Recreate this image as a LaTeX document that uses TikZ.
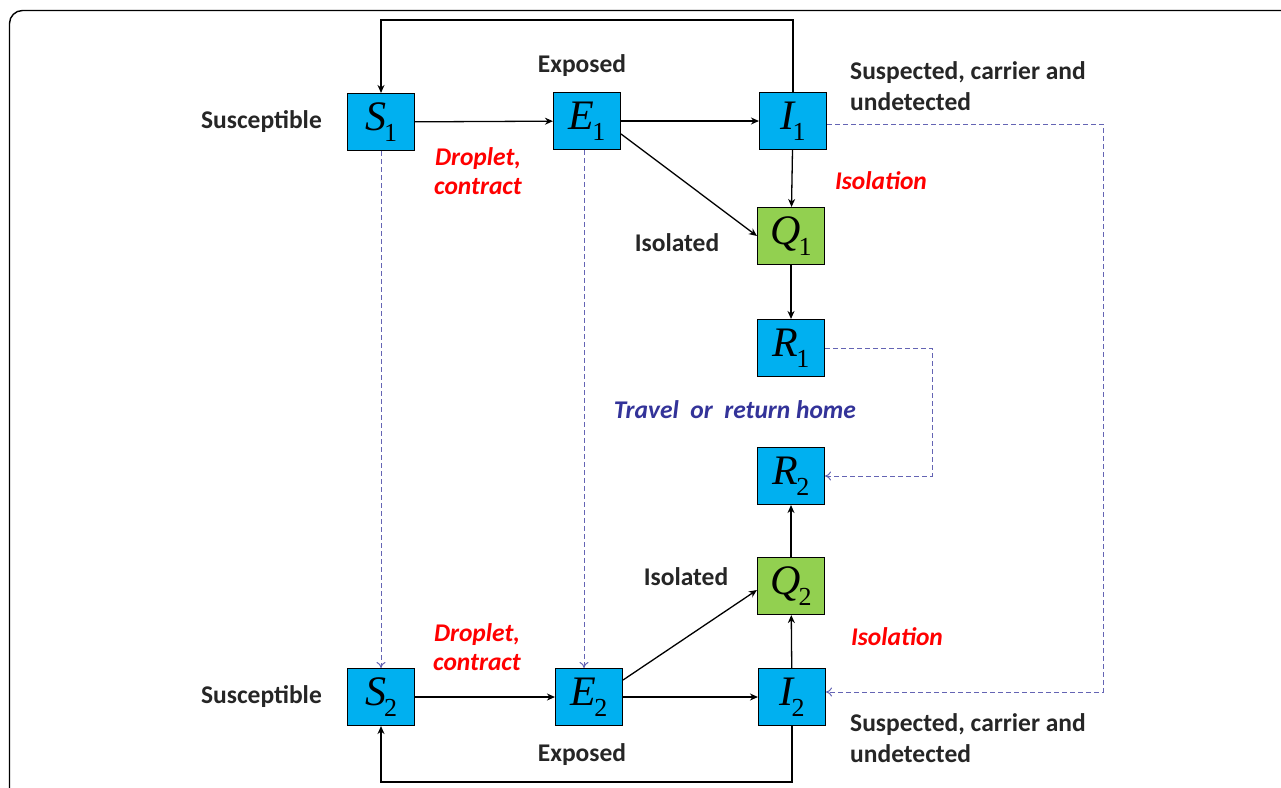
\documentclass[tikz,border=0pt]{standalone}
\usepackage{fontspec}
\setmainfont{Carlito}
\newfontfamily\mathserif{Liberation Serif}
\usetikzlibrary{arrows.meta}
\definecolor{boxblue}{RGB}{0,176,240}
\definecolor{boxgreen}{RGB}{146,208,80}
\definecolor{redtxt}{RGB}{255,0,0}
\definecolor{bluetxt}{RGB}{51,51,153}
\definecolor{dashcol}{RGB}{100,100,180}
\newcommand\mvar[2]{{\fontsize{42}{42}\selectfont\mathserif\itshape #1}\kern-2pt\raisebox{-11pt}{\fontsize{26}{26}\selectfont\mathserif #2}}
\tikzset{
  bx/.style={draw=black, line width=1.1pt, minimum width=67pt, minimum height=57pt, inner sep=0pt},
  bbox/.style={bx, fill=boxblue},
  gbox/.style={bx, fill=boxgreen},
  arr/.style={draw=black, line width=1.3pt, -{Stealth[length=8pt,width=7pt]}},
  dsh/.style={draw=dashcol, line width=1pt, dash pattern=on 5pt off 3pt, -{To[length=6pt,width=9pt]}},
  lbl/.style={font=\fontsize{25.5}{31}\selectfont\bfseries, text=black!85, align=left, inner sep=0pt},
  rlbl/.style={font=\fontsize{25.5}{29}\selectfont\bfseries\itshape, text=redtxt, align=center, inner sep=0pt},
  blbl/.style={font=\fontsize{25.5}{29}\selectfont\bfseries\itshape, text=bluetxt, inner sep=0pt},
}
\begin{document}
\begin{tikzpicture}[x=1pt,y=-1pt]
\useasboundingbox (0,0) rectangle (1281,787);
\fill[white] (0,0) rectangle (1281,787);
\draw[line width=1.4pt, rounded corners=13pt] (9.5,800) -- (9.5,10.5) -- (1290,10.5);

% nodes
\node[bbox] (S1) at (381,122) {\mvar{S}{1}};
\node[bbox] (E1) at (587,121) {\mvar{E}{1}};
\node[bbox] (I1) at (793,121) {\mvar{I}{1}};
\node[gbox] (Q1) at (791,236) {\mvar{Q}{1}};
\node[bbox] (R1) at (791,348) {\mvar{R}{1}};
\node[bbox] (R2) at (791,476) {\mvar{R}{2}};
\node[gbox] (Q2) at (791,586) {\mvar{Q}{2}};
\node[bbox] (I2) at (792,697) {\mvar{I}{2}};
\node[bbox] (S2) at (381,697) {\mvar{S}{2}};
\node[bbox] (E2) at (589,697) {\mvar{E}{2}};

\coordinate (topL) at (381,20);
\coordinate (botL) at (381,782);
\coordinate (dI) at (1103,0);
\coordinate (dR) at (932,0);

% solid connectors
\draw[arr] (S1) -- (E1);
\draw[arr] (E1) -- (I1);
\draw[arr] ([yshift=-13pt]E1.east) -- (Q1.west);
\draw[arr] (I1) -- (Q1);
\draw[arr] (Q1) -- (R1);
\draw[arr] (S2) -- (E2);
\draw[arr] (E2) -- (I2);
\draw[arr] ([yshift=17pt]E2.east) -- ([yshift=-4pt]Q2.west);
\draw[arr] (I2) -- (Q2);
\draw[arr] (Q2) -- (R2);
\draw[arr] (I1.north) |- (topL) -- (S1.north);
\draw[arr] (I2.south) |- (botL) -- (S2.south);

% dashed connectors
\draw[dsh] (S1.south) -- (S2.north);
\draw[dsh] ([xshift=-3pt]E1.south) -- ([xshift=-3pt]E1.south |- E2.north);
\draw[dsh] ([yshift=-3pt]I1.east) -- ([yshift=-3pt]I1.east -| dI) -- ([yshift=5pt]I2.east -| dI) -- ([yshift=5pt]I2.east);
\draw[dsh] (R1.east) -- (R1.east -| dR) -- (R2.east -| dR) -- (R2.east);

% labels
\node[lbl, anchor=east] (sus1) at (322,122) {Susceptible};
\node[lbl] (exp1) at (582,66) {Exposed};
\node[lbl, anchor=west] (susp1) at (850,86) {Suspected, carrier and\\undetected};
\node[rlbl] (drop1) at (478,171) {Droplet,\\contract};
\node[rlbl] (isoa1) at (881,181) {Isolation};
\node[lbl] (isod1) at (677,243) {Isolated};
\node[blbl] (trav) at (735,410) {Travel\ \ or\ \ return home};
\node[lbl] (isod2) at (686,577) {Isolated};
\node[rlbl] (isoa2) at (897,637) {Isolation};
\node[rlbl] (drop2) at (477,647) {Droplet,\\contract};
\node[lbl, anchor=east] (sus2) at (322,697) {Susceptible};
\node[lbl] (exp2) at (582,755) {Exposed};
\node[lbl, anchor=west] (susp2) at (850,738) {Suspected, carrier and\\undetected};
\end{tikzpicture}
\end{document}
